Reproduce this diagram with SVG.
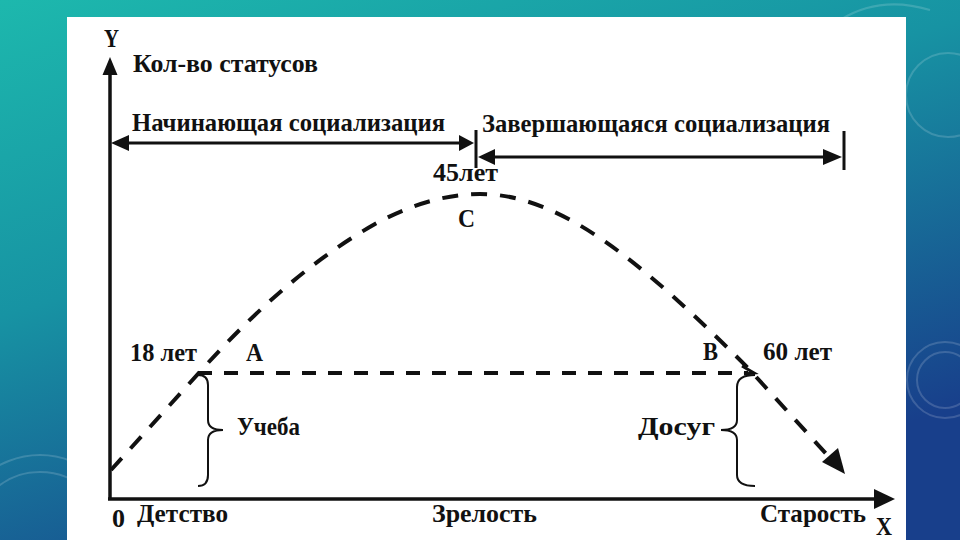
<svg xmlns="http://www.w3.org/2000/svg" width="960" height="540" viewBox="0 0 960 540">
  <defs>
    <linearGradient id="bg" x1="0" y1="0" x2="0.55" y2="1">
      <stop offset="0" stop-color="#1db8ad"/>
      <stop offset="0.45" stop-color="#1793a3"/>
      <stop offset="1" stop-color="#183f8b"/>
    </linearGradient>
    <style>
      .t { font-family: "Liberation Serif", "Times New Roman", "DejaVu Serif", serif; font-weight: bold; font-size: 26px; fill: #111; }
      .ax { stroke: #111; stroke-width: 3.5; fill: none; }
      .dim { stroke: #111; stroke-width: 3; fill: none; }
      .dash { stroke: #111; stroke-width: 4; fill: none; stroke-dasharray: 16 13; }
      .hdash { stroke: #111; stroke-width: 4; fill: none; stroke-dasharray: 14 12; }
      .brace { stroke: #111; stroke-width: 2; fill: none; }
      .head { fill: #111; }
      .deco { stroke: #ffffff; stroke-opacity: 0.16; stroke-width: 2; fill: none; }
    </style>
  </defs>

  <!-- background -->
  <rect x="0" y="0" width="960" height="540" fill="url(#bg)"/>
  <g id="decor">
    <circle class="deco" cx="948" cy="95" r="42"/>
    <circle class="deco" cx="945" cy="380" r="38"/>
    <circle class="deco" cx="945" cy="380" r="28" stroke-opacity="0.1"/>
    <circle class="deco" cx="40" cy="540" r="85"/>
    <circle class="deco" cx="40" cy="540" r="68" stroke-opacity="0.1"/>
    <path class="deco" d="M840,20 Q880,-5 930,10" stroke-opacity="0.12"/>
  </g>

  <!-- white panel -->
  <rect x="67" y="17" width="839" height="523" fill="#ffffff"/>

  <!-- connectors -->
  <g id="connectors">
    <!-- axes -->
    <line class="ax" x1="110" y1="499" x2="110" y2="70"/>
    <polygon class="head" points="110,57 102.5,75 117.5,75"/>
    <line class="ax" x1="108" y1="499" x2="878" y2="499"/>
    <polygon class="head" points="895,499 874,489 874,509"/>

    <!-- dimension arrow: Начинающая -->
    <line class="dim" x1="120" y1="143" x2="465" y2="143"/>
    <polygon class="head" points="111,143 129,135 129,151"/>
    <polygon class="head" points="474,143 459,135 459,151"/>
    <line class="dim" x1="476" y1="130" x2="476" y2="168"/>

    <!-- dimension arrow: Завершающаяся -->
    <line class="dim" x1="488" y1="157" x2="832" y2="157"/>
    <polygon class="head" points="478,157 495,149 495,165"/>
    <polygon class="head" points="842,157 823,149 823,165"/>
    <line class="dim" x1="844" y1="131" x2="844" y2="170"/>

    <!-- dashed curve -->
    <path class="dash" d="M111,470 L207,364 C260,306 315,258 375,224 C410,205 445,194 480,194 C560,194 640,260 748,368 L830,458"/>
    <polygon class="head" points="845,474 822,462 838,448"/>

    <!-- horizontal dashed line A-B -->
    <line class="hdash" x1="198" y1="373" x2="748" y2="373"/>
    <path class="dim" d="M742,366 L754,373 L744,374" stroke-width="3"/>

    <!-- braces -->
    <path class="brace" d="M198,375 Q208,375 208,385 L208,420 Q208,430 223,430 Q208,430 208,440 L208,475 Q208,486 198,486"/>
    <path class="brace" d="M755,375 Q737,375 737,387 L737,420 Q737,430 721,430 Q737,430 737,440 L737,475 Q737,486 755,486"/>
  </g>

  <!-- labels -->
  <g id="label-y"><text class="t" x="104" y="47" textLength="15" lengthAdjust="spacingAndGlyphs">Y</text></g>
  <g id="label-status"><text class="t" x="133" y="72" textLength="185" lengthAdjust="spacingAndGlyphs">Кол-во статусов</text></g>
  <g id="label-start"><text class="t" x="132" y="131" textLength="313" lengthAdjust="spacingAndGlyphs">Начинающая социализация</text></g>
  <g id="label-end"><text class="t" x="482" y="132" textLength="348" lengthAdjust="spacingAndGlyphs">Завершающаяся социализация</text></g>
  <g id="label-45"><text class="t" x="433" y="181" textLength="65" lengthAdjust="spacingAndGlyphs">45лет</text></g>
  <g id="point-c"><text class="t" x="458" y="227" textLength="17" lengthAdjust="spacingAndGlyphs">C</text></g>
  <g id="label-18"><text class="t" x="130" y="361" textLength="67" lengthAdjust="spacingAndGlyphs">18 лет</text></g>
  <g id="point-a"><text class="t" x="246" y="361" textLength="17" lengthAdjust="spacingAndGlyphs">A</text></g>
  <g id="point-b"><text class="t" x="703" y="360" textLength="15" lengthAdjust="spacingAndGlyphs">B</text></g>
  <g id="label-60"><text class="t" x="763" y="360" textLength="69" lengthAdjust="spacingAndGlyphs">60 лет</text></g>
  <g id="label-study"><text class="t" x="237" y="435" textLength="63" lengthAdjust="spacingAndGlyphs">Учеба</text></g>
  <g id="label-leisure"><text class="t" x="638" y="435" textLength="77" lengthAdjust="spacingAndGlyphs">Досуг</text></g>
  <g id="label-zero"><text class="t" x="112" y="527" textLength="13" lengthAdjust="spacingAndGlyphs">0</text></g>
  <g id="label-childhood"><text class="t" x="137" y="522" textLength="91" lengthAdjust="spacingAndGlyphs">Детство</text></g>
  <g id="label-maturity"><text class="t" x="432" y="522" textLength="105" lengthAdjust="spacingAndGlyphs">Зрелость</text></g>
  <g id="label-old"><text class="t" x="760" y="522" textLength="106" lengthAdjust="spacingAndGlyphs">Старость</text></g>
  <g id="label-x"><text class="t" x="876" y="535" textLength="16" lengthAdjust="spacingAndGlyphs">X</text></g>
</svg>
